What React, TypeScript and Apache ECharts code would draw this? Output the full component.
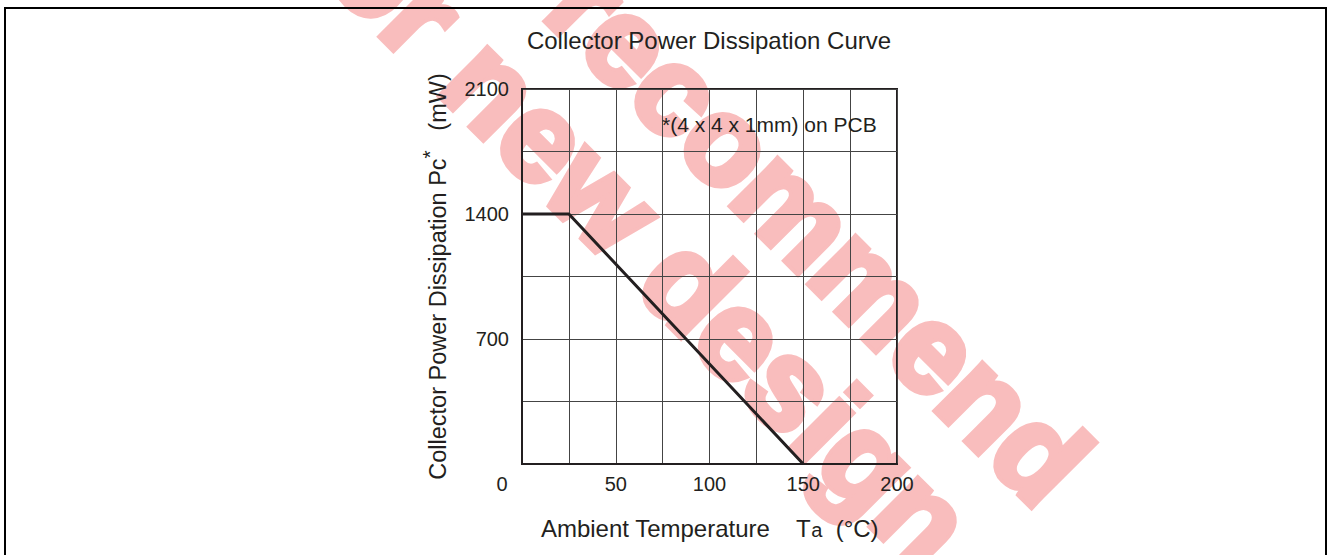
import React, { useEffect, useRef } from "react";
import * as echarts from "echarts";

const tempC = [0, 25, 150];
const powerMW = [1400, 1400, 0];
const xMin = 0, xMax = 200, xStep = 25, xLabelStep = 50;
const yMin = 0, yMax = 2100, yStep = 350, yLabelStep = 700;
const titleText = "Collector Power Dissipation Curve";
const noteText = "*(4 x 4 x 1mm) on PCB";
const watermarkLines = ["Not recommend", "for new design"];

const FONT = '"Liberation Sans", Arial, Helvetica, sans-serif';
const INK = "#231f20";
const PINK = "#f9bdbd";

export default function App() {
  const ref = useRef<HTMLDivElement>(null);
  useEffect(() => {
    if (!ref.current) return;
    const chart = echarts.init(ref.current, null, { renderer: "svg" });
    const data = tempC.map((t, i) => [t, powerMW[i]]);
    chart.setOption({
      animation: false,
      backgroundColor: "#ffffff",
      textStyle: { fontFamily: FONT, color: INK },
      title: {
        text: titleText,
        left: 709,
        textAlign: "center",
        top: 28,
        padding: 0,
        textStyle: { fontFamily: FONT, fontSize: 24, fontWeight: "normal", color: INK },
      },
      grid: {
        left: 522, top: 89, right: 430, bottom: 91,
        show: true, borderColor: INK, borderWidth: 2, backgroundColor: "transparent",
      },
      xAxis: {
        type: "value", min: xMin, max: xMax, interval: xStep,
        name: "Ambient Temperature    T{s|a}  (°C)",
        nameLocation: "middle", nameGap: 52,
        nameTextStyle: {
          fontFamily: FONT, fontSize: 24, color: INK,
          rich: { s: { fontFamily: FONT, fontSize: 20, color: INK, padding: [4, 0, 0, 0] } },
        },
        axisLine: { show: true, lineStyle: { color: INK, width: 2 } },
        axisTick: { show: false },
        splitLine: { show: true, lineStyle: { color: "#444", width: 1 } },
        axisLabel: {
          interval: 0, margin: 10, fontFamily: FONT, fontSize: 20, color: INK,
          formatter: (v: number) => (v === 0 ? "{o|0}" : v % xLabelStep === 0 ? String(v) : ""),
          rich: { o: { fontFamily: FONT, fontSize: 20, color: INK, padding: [0, 40, 0, 0] } },
        },
      },
      yAxis: {
        type: "value", min: yMin, max: yMax, interval: yStep,
        name: "Collector Power Dissipation Pc{s|*}   (mW)",
        nameLocation: "middle", nameGap: 66,
        nameTextStyle: {
          fontFamily: FONT, fontSize: 23.5, color: INK,
          rich: { s: { fontFamily: FONT, fontSize: 21, color: INK, padding: [0, 0, 16, 0] } },
        },
        axisLine: { show: true, lineStyle: { color: INK, width: 2 } },
        axisTick: { show: false },
        splitLine: { show: true, lineStyle: { color: "#444", width: 1 } },
        axisLabel: {
          margin: 13, fontFamily: FONT, fontSize: 20, color: INK,
          formatter: (v: number) => (v > 0 && v % yLabelStep === 0 ? String(v) : ""),
        },
      },
      series: [
        {
          type: "line", data, symbol: "none", z: 5,
          lineStyle: { color: INK, width: 3 },
        },
      ],
      graphic: [
        {
          type: "rect", z: -20,
          shape: { x: 658, y: 106, width: 224, height: 35 },
          style: { fill: "#ffffff" },
        },
        {
          type: "text", z: -10, x: 734, y: 148, rotation: -Math.PI / 4,
          style: {
            text: watermarkLines[0], fill: PINK, stroke: PINK, lineWidth: 7,
            align: "center", verticalAlign: "middle",
            font: `bold 124px ${FONT}`,
          },
        },
        {
          type: "text", z: -10, x: 636, y: 230, rotation: -Math.PI / 4,
          style: {
            text: watermarkLines[1], fill: PINK, stroke: PINK, lineWidth: 7,
            align: "center", verticalAlign: "middle",
            font: `bold 126px ${FONT}`,
          },
        },
        {
          type: "text", z: 10, x: 662, y: 124,
          style: {
            text: noteText, fill: INK, align: "left", verticalAlign: "middle",
            font: `21px ${FONT}`,
          },
        },
        {
          type: "rect", z: 20,
          shape: { x: 5, y: 8, width: 1321, height: 620 },
          style: { fill: "none", stroke: "#000000", lineWidth: 2 },
        },
      ],
    });
    return () => chart.dispose();
  }, []);
  return (
    <div
      ref={ref}
      style={{ position: "fixed", left: 0, top: 0, width: 1327, height: 555 }}
    />
  );
}
